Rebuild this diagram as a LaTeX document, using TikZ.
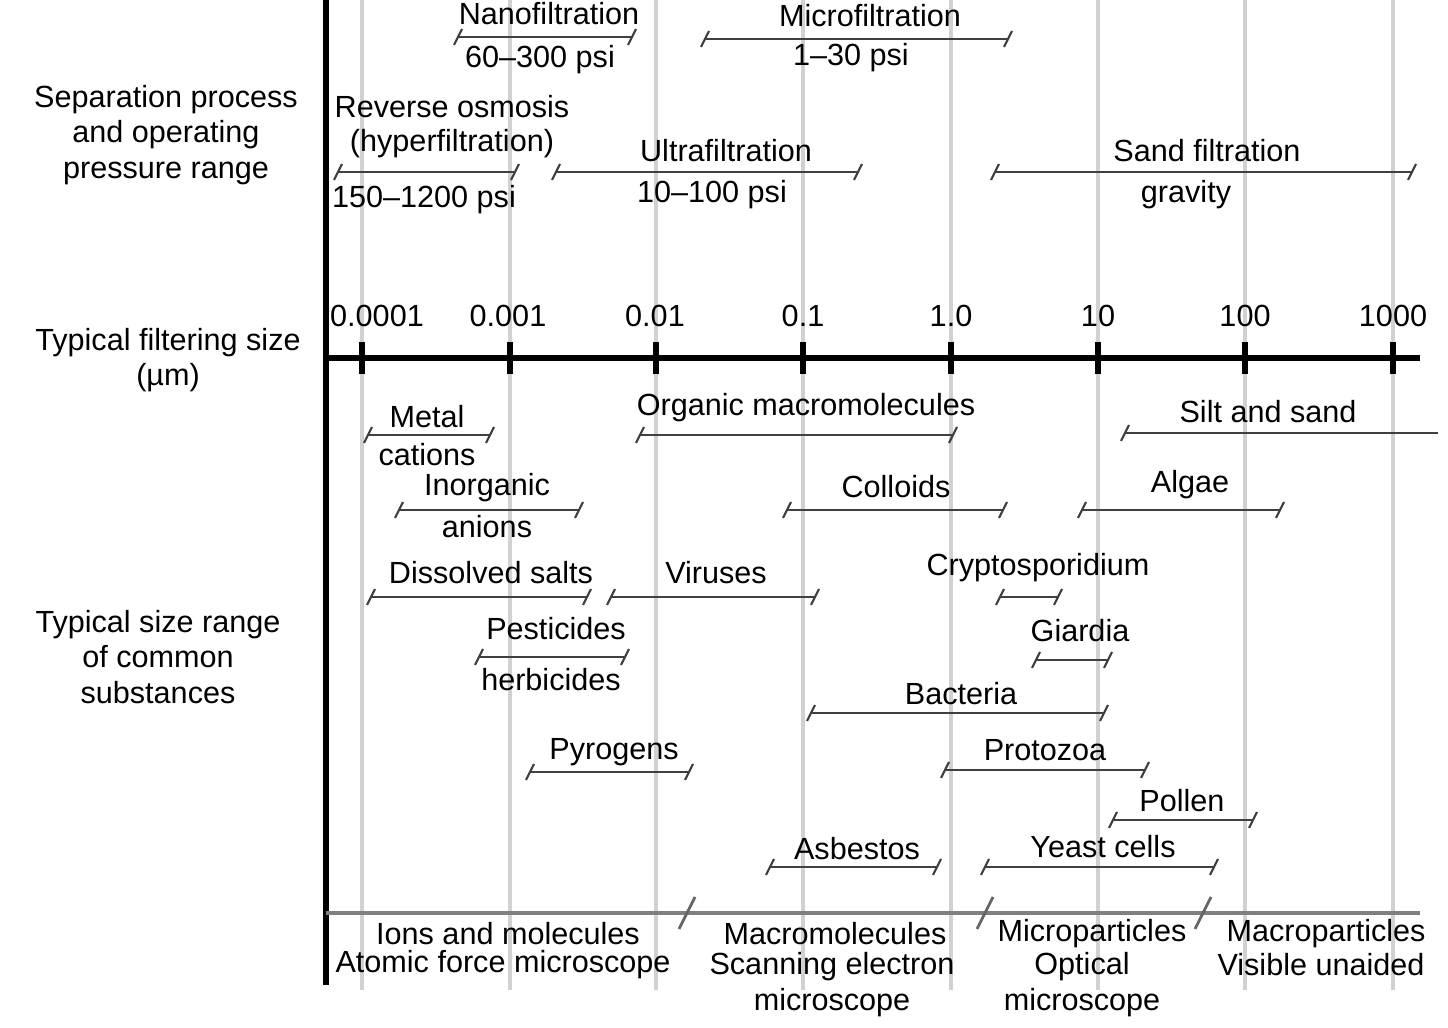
\documentclass[tikz,border=0pt]{standalone}
\usepackage{fontspec}
\setmainfont{Liberation Sans}
\usetikzlibrary{calc}
\tikzset{
  bar/.style={draw=black!75, line width=0.6pt},
  grid/.style={draw=black!18, line width=1pt},
  lbl/.style={inner sep=0pt, font=\fontsize{8.7}{10}\selectfont},
}
\newcommand{\barend}[2]{\draw[bar] (#1-4,#2+8) -- (#1+4,#2-8);}
\newcommand{\sizebar}[3]{\draw[bar] (#1,#3) -- (#2,#3); \barend{#1}{#3}\barend{#2}{#3}}
\begin{document}
\begin{tikzpicture}[x=0.01cm,y=-0.01cm]
\useasboundingbox (0,0) rectangle (1448,1028);
% decade grid
\foreach \x/\t/\s in {362/0.0001/377,510/0.001/508,656/0.01/655,803/0.1/803,951/1.0/951,1098/10/1098,1245/100/1245,1393/1000/1393}{
  \draw[grid] (\x,0) -- (\x,990);
  \draw[line width=1.6pt] (\x,342) -- (\x,374);
  \node[lbl] at (\s,316) {\t};
}
\draw[line width=1.6pt] (326,0) -- (326,985);
\draw[line width=1.6pt] (326,358) -- (1420,358);
% left titles
\node[lbl,align=center] at (166,135) {Separation process\\[0pt]and operating\\[0pt]pressure range};
\node[lbl,align=center] at (168,360) {Typical filtering size\\[0pt](µm)};
\node[lbl,align=center] at (158,657) {Typical size range\\[0pt]of common\\[0pt]substances};
% processes
\sizebar{458}{632}{37}
\node[lbl] at (549,14) {Nanofiltration}; \node[lbl] at (540,60) {60--300 psi};
\sizebar{705}{1008}{39}
\node[lbl] at (870,16) {Microfiltration}; \node[lbl] at (851,58) {1--30 psi};
\sizebar{338}{515}{172}
\node[lbl] at (452,107) {Reverse osmosis}; \node[lbl] at (452,144) {(hyperfiltration)};
\node[lbl] at (424,200) {150--1200 psi};
\sizebar{556}{858}{172}
\node[lbl] at (726,151) {Ultrafiltration}; \node[lbl] at (712,195) {10--100 psi};
\sizebar{995}{1412}{172}
\node[lbl] at (1207,151) {Sand filtration}; \node[lbl] at (1186,195) {gravity};
% substances
\sizebar{368}{490}{435}
\node[lbl] at (427,417) {Metal}; \node[lbl] at (427,455) {cations};
\sizebar{640}{953}{435}
\node[lbl] at (806,408) {Organic macromolecules};
\draw[bar] (1125,433) -- (1438,433); \barend{1125}{433}
\node[lbl] at (1268,412) {Silt and sand};
\sizebar{399}{579}{510}
\node[lbl] at (487,488) {Inorganic}; \node[lbl] at (487,527) {anions};
\sizebar{787}{1003}{510}
\node[lbl] at (896,487) {Colloids};
\sizebar{1082}{1280}{510}
\node[lbl] at (1190,485) {Algae};
\sizebar{371}{587}{597}
\node[lbl] at (491,573) {Dissolved salts};
\sizebar{611}{815}{597}
\node[lbl] at (716,573) {Viruses};
\sizebar{1000}{1058}{597}
\node[lbl] at (1038,568) {Cryptosporidium};
\sizebar{479}{625}{657}
\node[lbl] at (556,629) {Pesticides}; \node[lbl] at (551,680) {herbicides};
\sizebar{1036}{1108}{660}
\node[lbl] at (1080,631) {Giardia};
\sizebar{811}{1104}{713}
\node[lbl] at (961,694) {Bacteria};
\sizebar{530}{689}{772}
\node[lbl] at (614,752) {Pyrogens};
\sizebar{945}{1145}{770}
\node[lbl] at (1045,750) {Protozoa};
\sizebar{1113}{1253}{820}
\node[lbl] at (1182,801) {Pollen};
\sizebar{770}{937}{867}
\node[lbl] at (857,849) {Asbestos};
\sizebar{985}{1214}{867}
\node[lbl] at (1103,847) {Yeast cells};
% particle classes
\draw[draw=black!50, line width=1.2pt] (326,913) -- (1420,913);
\foreach \x in {687,985,1203}
  \draw[draw=black!60, line width=0.8pt] (\x-8,929) -- (\x+8,897);
\node[lbl] at (508,934) {Ions and molecules};
\node[lbl] at (503,965) {Atomic force microscope};
\node[lbl] at (835,934) {Macromolecules};
\node[lbl] at (832,967) {Scanning electron};
\node[lbl] at (832,1003) {microscope};
\node[lbl] at (1092,934) {Microparticles};
\node[lbl] at (1082,967) {Optical};
\node[lbl] at (1082,1003) {microscope};
\node[lbl] at (1326,934) {Macroparticles};
\node[lbl] at (1321,965) {Visible unaided};
\end{tikzpicture}
\end{document}
